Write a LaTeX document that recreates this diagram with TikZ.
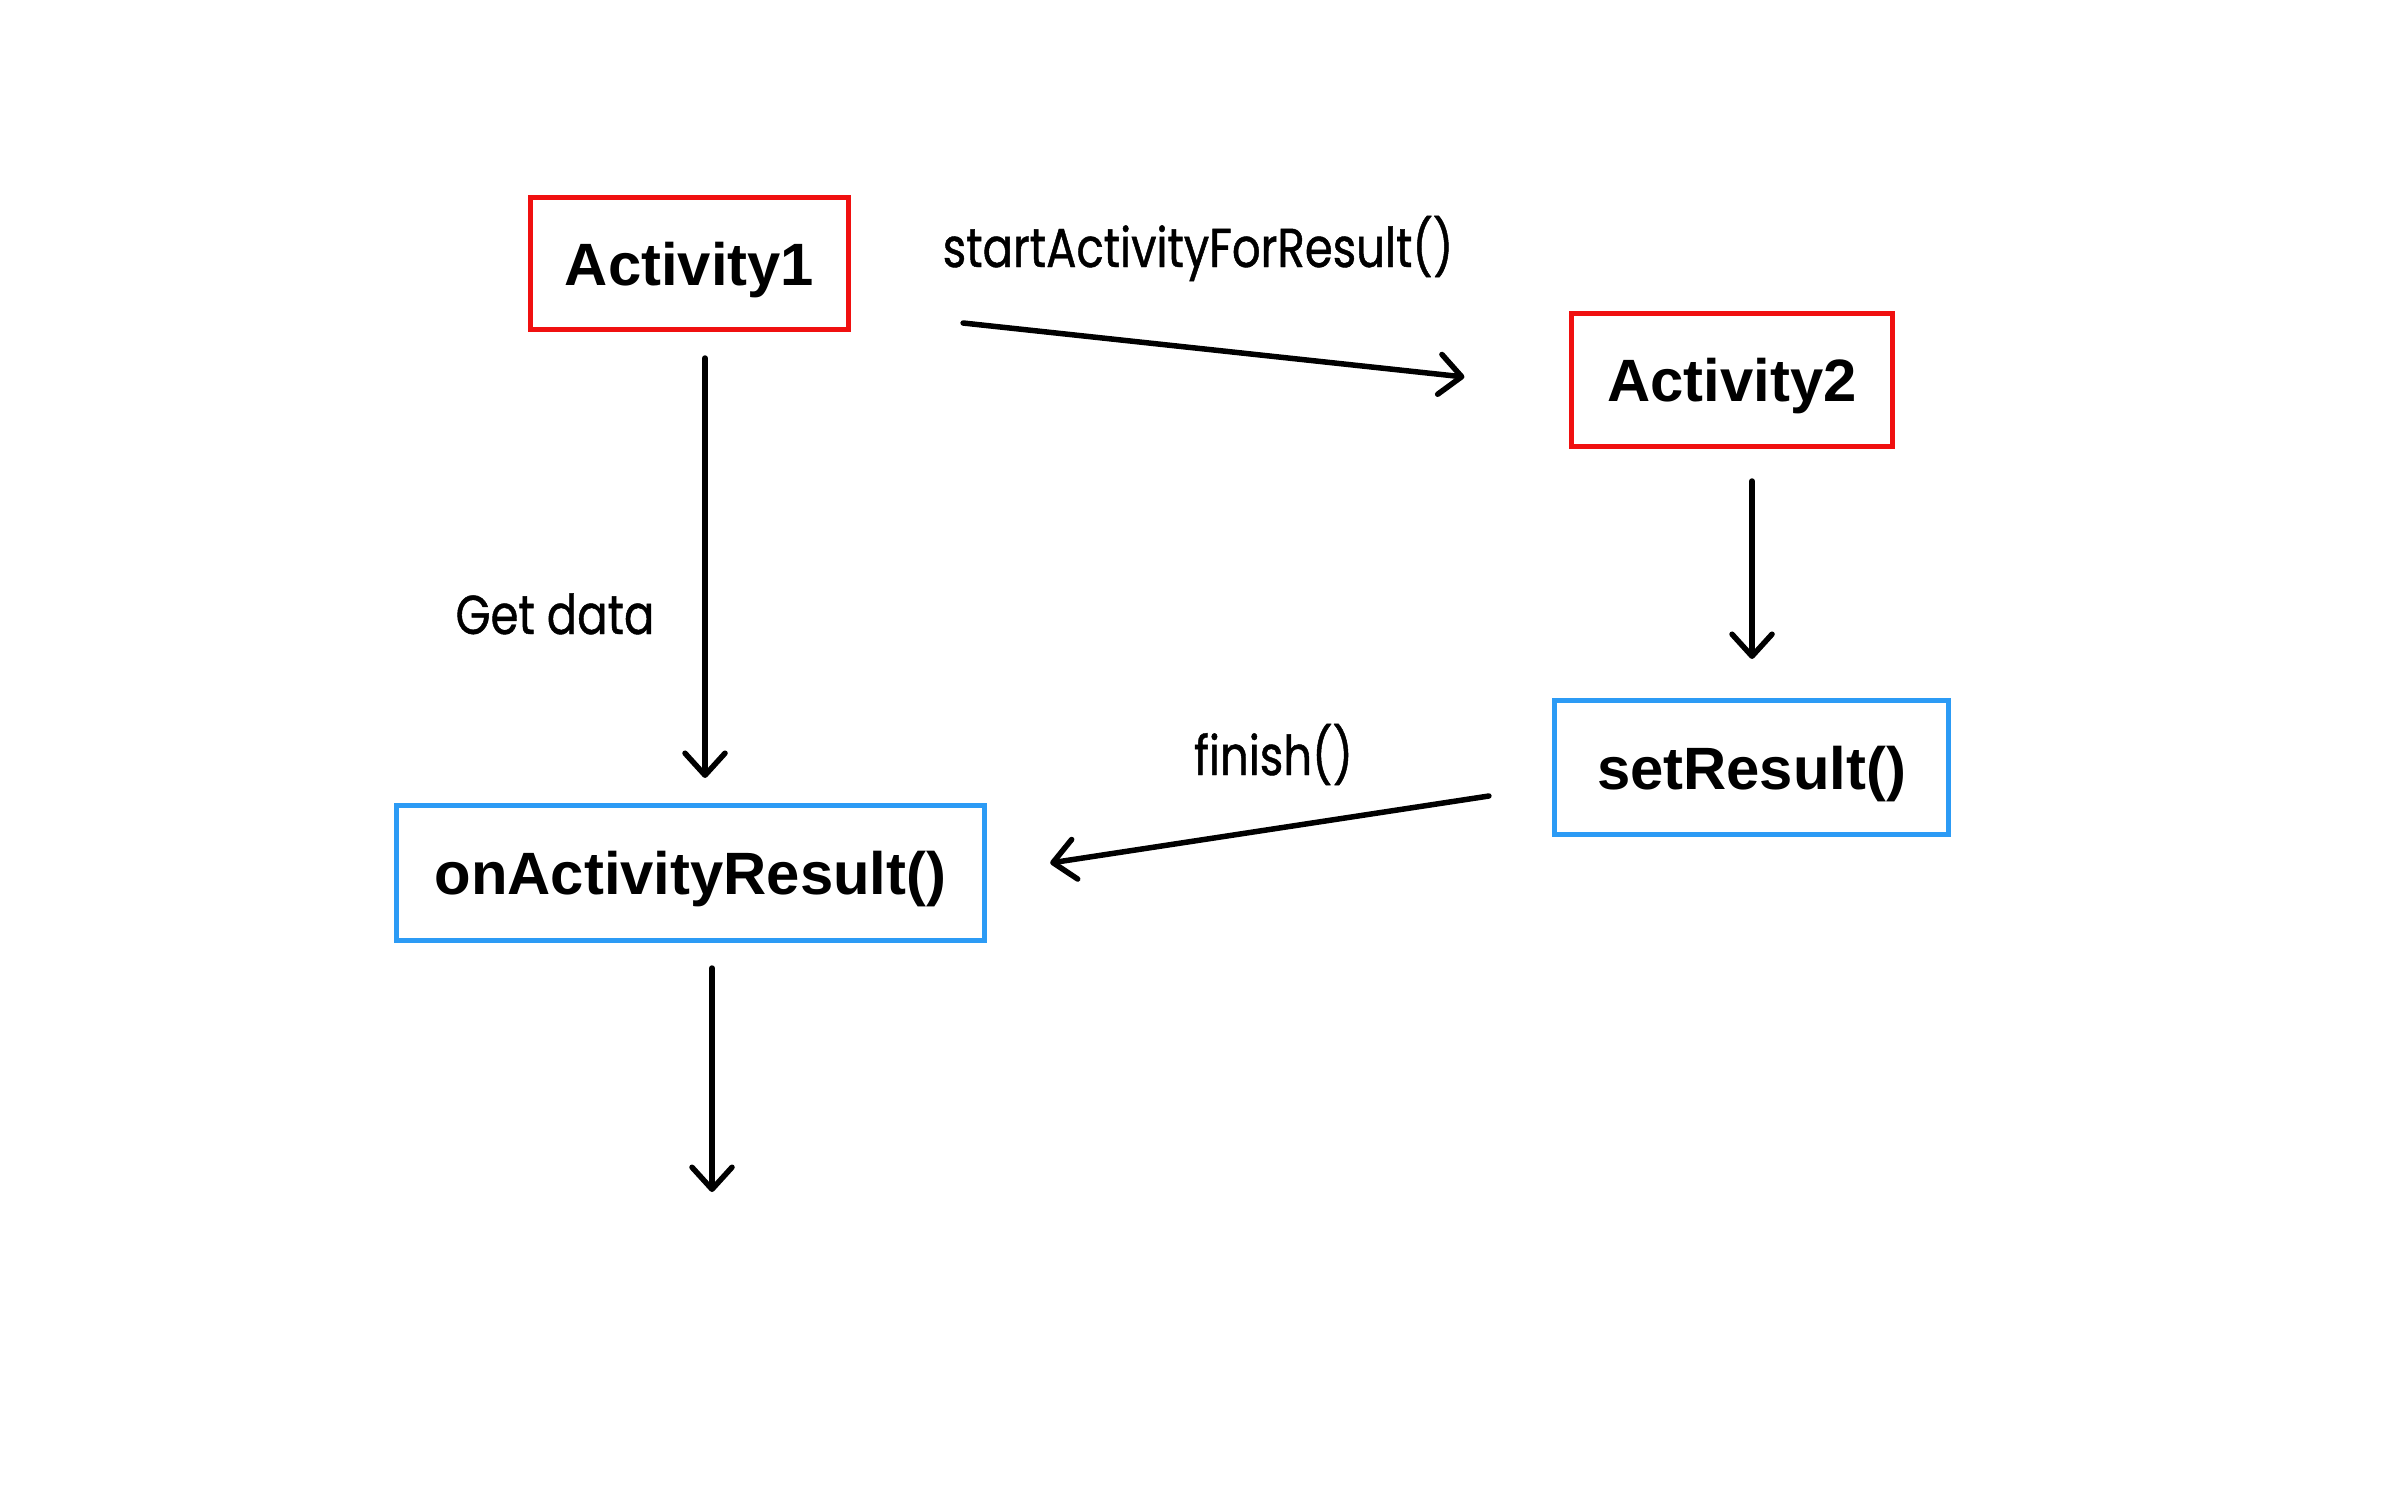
\documentclass[tikz,border=0pt]{standalone}
\usepackage{fontspec}
\setmainfont{Liberation Sans}
\newfontfamily\lblfont[FakeStretch=0.82,FakeBold=0.8]{Poppins}
\usetikzlibrary{arrows.meta,calc}
\definecolor{boxred}{RGB}{240,16,16}
\definecolor{boxblue}{RGB}{44,155,245}
\begin{document}
\begin{tikzpicture}[x=0.01cm,y=-0.01cm,
  box/.style={draw,line width=0.05cm,inner sep=0pt,text depth=0pt,font=\fontsize{17}{20}\selectfont\bfseries},
  redbox/.style={box,draw=boxred},
  bluebox/.style={box,draw=boxblue},
  arr/.style={line width=0.055cm,line cap=round,
    -{Straight Barb[length=0.22cm,width=0.40cm,line cap=round,line join=round]}},
  lbl/.style={anchor=base,inner sep=0pt,font=\lblfont\fontsize{15.6}{18}\selectfont}]
\useasboundingbox[fill=white] (0,0) rectangle (2386,1491);
\node[redbox,minimum width=3.18cm,minimum height=1.32cm] (a1) at (689.5,263.5) {Activity1};
\node[redbox,minimum width=3.20cm,minimum height=1.33cm] (a2) at (1732,380) {Activity2};
\node[bluebox,minimum width=3.94cm,minimum height=1.34cm] (sr) at (1751.5,767.5) {setResult()};
\node[bluebox,minimum width=5.88cm,minimum height=1.35cm] (on) at (690.5,873) {onActivityResult()};
\coordinate (end) at (712,1192);
\draw[arr] ($(a1.east)+(112,59.5)$) -- ($(a2.west)+(-105,-3)$);
\draw[arr] ($(a1.south)+(15.5,26)$) -- ($(on.north)+(14.5,-25)$);
\draw[arr] ($(a2.south)+(20,32)$) -- ($(sr.north)+(0.5,-39)$);
\draw[arr] ($(sr.west)+(-63,28.5)$) -- ($(on.east)+(63,-10)$);
\draw[arr] ($(on.south)+(21.5,25)$) -- (end);
\node[lbl] (l1) at (1198,267) {startActivityForResult()};
\node[lbl] (l2) at (555,634) {Get data};
\node[lbl] (l3) at (1273.5,775) {finish()};
\end{tikzpicture}
\end{document}
